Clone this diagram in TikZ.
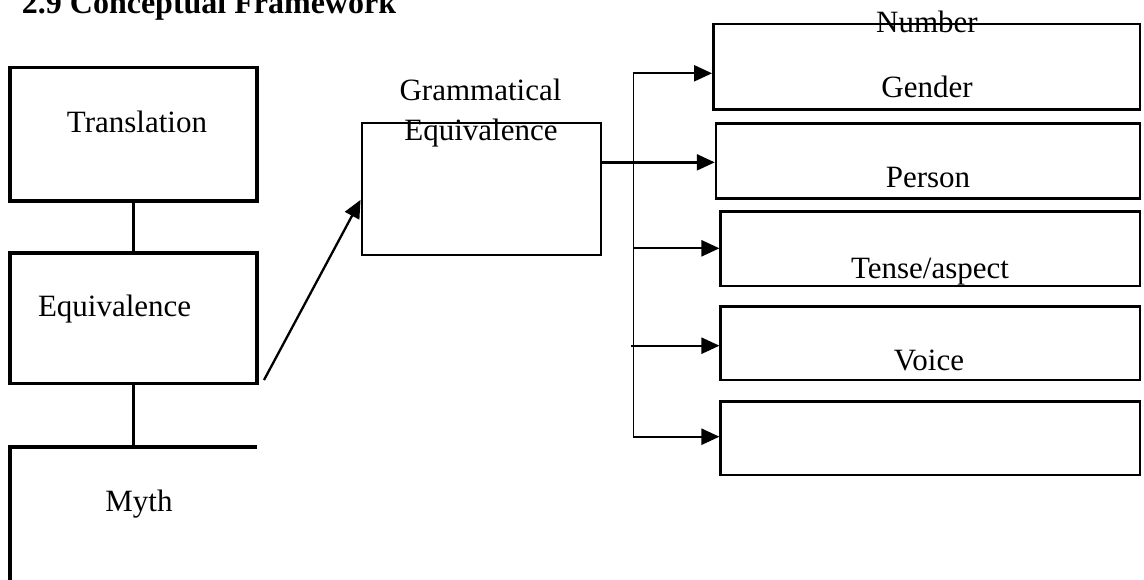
\documentclass[tikz,border=0pt]{standalone}
\usepackage{fontspec}
\setmainfont{Liberation Serif}
\usetikzlibrary{arrows.meta,calc}
\begin{document}
\begin{tikzpicture}[x=1pt,y=-1pt,
  lbox/.style={draw, line width=3.2pt, inner sep=0pt, minimum width=247pt},
  rbox/.style={draw, line width=2.5pt, inner sep=0pt},
  gbox/.style={draw, line width=2.3pt, inner sep=0pt},
  lbl/.style={font=\fontsize{31}{31}\selectfont, inner sep=0pt, anchor=base},
  ttl/.style={font=\fontsize{32}{32}\selectfont\bfseries, inner sep=0pt, anchor=base west},
  arr/.style={-{Triangle[length=18pt,width=16pt]}, line width=2.3pt},
  conn/.style={line width=3.2pt},
  spine/.style={line width=1.4pt}]
\useasboundingbox (0,0) rectangle (1144,579);
% title
\node[ttl] (title) at (21.7,13.5) {2.9 Conceptual Framework};
% left column
\node[lbox, minimum height=133.3pt] (trans) at (133.5,134.35) {};
\node[lbox, minimum height=130.5pt] (equiv) at (133.5,318.25) {};
\coordinate (mythtop) at (133.5,447);
\coordinate (mythtl) at (10,447);
\coordinate (mythtr) at (257,447);
\coordinate (mythbl) at (10,585);
\draw[line width=3.2pt] (mythtr) -- (mythtl) -- (mythbl);
\draw[conn] (trans.south) -- (equiv.north);
\draw[conn] (equiv.south) -- (mythtop);
\node[lbl] (ltrans) at (137,132.3) {Translation};
\node[lbl] (lequiv) at (114.6,316) {Equivalence};
\node[lbl] (lmyth) at (139,511.7) {Myth};
% grammatical equivalence
\node[gbox, minimum width=239pt, minimum height=131.7pt] (gram) at (481.2,189.15) {};
\node[lbl] (lgram1) at (480.5,100.7) {Grammatical};
\node[lbl] (lgram2) at (481,140) {Equivalence};
\coordinate (d0) at (264,380);
\coordinate (d1) at ($(gram.north west)!0.58!(gram.south west)$);
\draw[arr] (d0) -- (d1);
% right column
\node[rbox, minimum width=426.7pt, minimum height=85.3pt] (num) at (926.65,66.65) {};
\node[rbox, minimum width=424pt, minimum height=75pt] (pers) at (928,160.8) {};
\node[rbox, minimum width=419.3pt, minimum height=74.3pt] (tense) at (930.35,248.85) {};
\node[rbox, minimum width=419.3pt, minimum height=73.3pt] (voice) at (930.35,343.35) {};
\node[rbox, minimum width=419.3pt, minimum height=73.3pt] (empty) at (930.35,438.35) {};
\node[lbl] (lnum) at (927,32) {Number};
\node[lbl] (lgen) at (927,97) {Gender};
\node[lbl] (lpers) at (928,187) {Person};
\node[lbl] (ltense) at (930,278) {Tense/aspect};
\node[lbl] (lvoice) at (929,370) {Voice};
% spine and arrows
\coordinate (s1) at (633.3,73.3);
\coordinate (s3) at (633.3,248.3);
\coordinate (s4) at (631,345.7);
\coordinate (s5) at (633.3,436.7);
\coordinate (g1) at ($(gram.north east)!0.3!(gram.south east)$);
\draw[spine] (s1) -- (s5);
\draw[arr] (s1) -- (s1 -| num.west);
\draw[arr] (g1) -- (g1 -| pers.west);
\draw[arr] (s3) -- (s3 -| tense.west);
\draw[arr] (s4) -- (s4 -| voice.west);
\draw[arr] (s5) -- (s5 -| empty.west);
\end{tikzpicture}
\end{document}
